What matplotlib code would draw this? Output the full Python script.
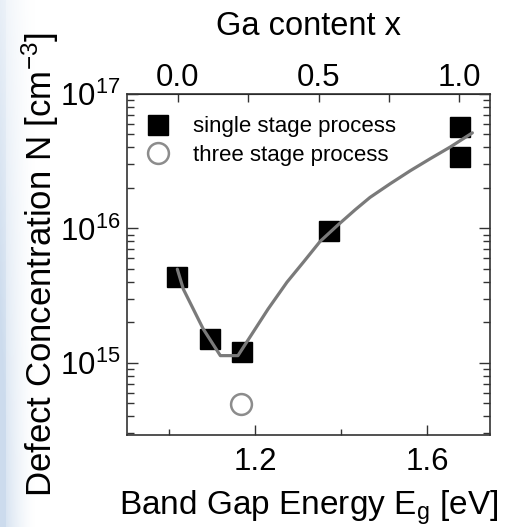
import numpy as np
import matplotlib
matplotlib.use("Agg")
import matplotlib.pyplot as plt
from matplotlib.ticker import LogLocator, FixedLocator, NullFormatter, FuncFormatter

plt.rcParams['font.family'] = ['Liberation Sans', 'DejaVu Sans']
plt.rcParams['mathtext.fontset'] = 'custom'
plt.rcParams['mathtext.rm'] = 'Liberation Sans'
plt.rcParams['mathtext.it'] = 'Liberation Sans:italic'
plt.rcParams['mathtext.bf'] = 'Liberation Sans:bold'

# Measured defect concentrations, single stage process
eg_single = [1.019, 1.095, 1.170, 1.372, 1.677, 1.677]
n_single = [4.35e15, 1.5e15, 1.2e15, 9.5e15, 5.7e16, 3.4e16]

# Three stage process
eg_three = [1.167]
n_three = [4.9e14]

# Guide-to-the-eye curve
eg_fit = [1.019, 1.033, 1.079, 1.119, 1.160, 1.230, 1.274, 1.312, 1.351,
          1.391, 1.433, 1.467, 1.514, 1.561, 1.607, 1.654, 1.705]
n_fit = [4.97e15, 3.53e15, 1.79e15, 1.13e15, 1.13e15, 2.51e15, 3.98e15, 5.60e15,
         8.0e15, 1.05e16, 1.38e16, 1.70e16, 2.15e16, 2.69e16, 3.30e16, 4.04e16, 5.14e16]

# Band gap <-> Ga content (linear interpolation between CIS and CGS)
EG_CIS, EG_CGS = 1.02, 1.675

def eg_to_x(e):
    return (np.asarray(e) - EG_CIS) / (EG_CGS - EG_CIS)

def x_to_eg(x):
    return EG_CIS + np.asarray(x) * (EG_CGS - EG_CIS)

W, H = 520, 527
fig = plt.figure(figsize=(W / 100, H / 100), dpi=100)

# soft bluish page edge on the left
bg = fig.add_axes([0, 0, 1, 1], zorder=-10)
xx = np.linspace(0, 1, 520)
yy = np.linspace(0, 1, 527)
X, Y = np.meshgrid(xx, yy)
fade = np.clip(1 - X * 520 / 35, 0, 1) ** 1.5
strength = (0.35 + 0.65 * Y) * fade
strength = np.where(X * 520 < 6, strength + 0.25 * Y + 0.1, strength)
strength = np.clip(strength, 0, 1)
base = np.array([1.0, 1.0, 1.0])
tint = np.array([0.80, 0.86, 0.93])
img = base[None, None, :] * (1 - strength[..., None]) + tint[None, None, :] * strength[..., None]
bg.imshow(img, extent=[0, 1, 0, 1], aspect='auto', origin='upper')
bg.axis('off')

left, right, top, bottom = 127, 490, 94, 435
ax = fig.add_axes([left / W, 1 - bottom / H, (right - left) / W, (bottom - top) / H])
ax.set_facecolor('none')

ax.set_yscale('log')
ax.set_xlim(0.902, 1.746)
ax.set_ylim(2.9e14, 1e17)

ax.plot(eg_single, n_single, linestyle='none', marker='s', markersize=15,
        color='black', label='single stage process', zorder=3)
ax.plot(eg_three, n_three, linestyle='none', marker='o', markersize=15,
        markerfacecolor='white', markeredgecolor='#8c8c8c', markeredgewidth=1.8,
        label='three stage process', zorder=3)
ax.plot(eg_fit, n_fit, color='#7a7a7a', linewidth=2.3, zorder=4,
        solid_joinstyle='round', solid_capstyle='round')

fs = 22.5
ax.xaxis.set_major_locator(FixedLocator([1.2, 1.6]))
ax.xaxis.set_minor_locator(FixedLocator([1.0, 1.4]))
ax.xaxis.set_major_formatter(FuncFormatter(lambda v, p: f"{v:.1f}"))
ax.yaxis.set_major_locator(LogLocator(base=10, numticks=10))
ax.yaxis.set_minor_locator(LogLocator(base=10, subs=np.arange(2, 10), numticks=20))
ax.yaxis.set_minor_formatter(NullFormatter())
ax.yaxis.set_major_formatter(FuncFormatter(lambda v, p: r"10$^{%d}$" % round(np.log10(v))))

ax.tick_params(which='both', direction='in', right=True, top=False, width=1.0, color='#333333')
ax.tick_params(which='major', length=7, labelsize=fs)
ax.tick_params(axis='x', which='major', pad=9)
ax.tick_params(axis='y', which='major', pad=5, length=8)
ax.tick_params(axis='x', which='minor', length=4)
ax.tick_params(axis='y', which='minor', length=5)
for s in ax.spines.values():
    s.set_linewidth(1.2)
    s.set_color('#333333')

ax.set_xlabel(r"Band Gap Energy E$_{\mathrm{g}}$ [eV]", fontsize=24, labelpad=8)
ax.set_ylabel(r"Defect Concentration N [cm$^{-3}$]", fontsize=25, labelpad=-1)

sec = ax.secondary_xaxis('top', functions=(eg_to_x, x_to_eg))
sec.xaxis.set_major_locator(FixedLocator([0.0, 0.5, 1.0]))
sec.xaxis.set_minor_locator(FixedLocator([0.25, 0.75]))
sec.xaxis.set_major_formatter(FuncFormatter(lambda v, p: f"{v:.1f}"))
sec.tick_params(which='both', direction='in', length=6, width=1.0, color='#333333',
                labelsize=fs, pad=1)
sec.set_xlabel("Ga content x", fontsize=23.5, labelpad=20)

leg = ax.legend(loc='upper left', bbox_to_anchor=(0.024, 0.967), frameon=False,
                fontsize=16, handlelength=1.0, handletextpad=1.1,
                labelspacing=0.35, borderpad=0, numpoints=1)

fig.savefig("out.png", dpi=100)
